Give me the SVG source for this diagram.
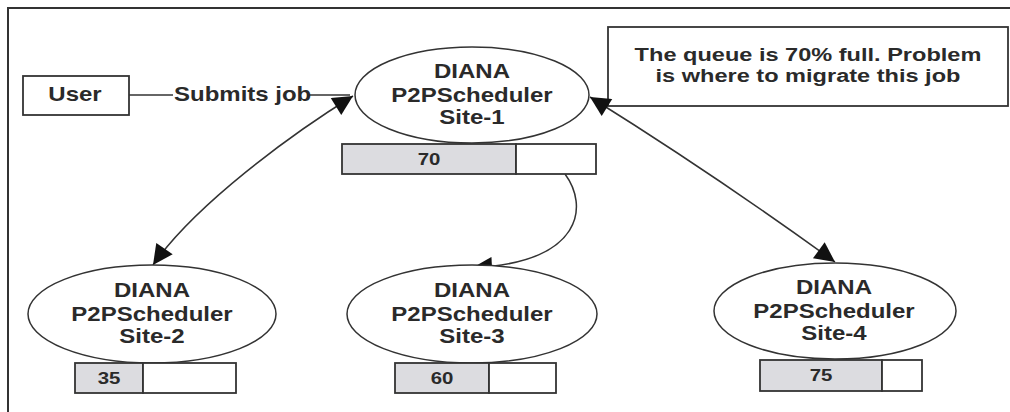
<svg xmlns="http://www.w3.org/2000/svg" width="1010" height="412" viewBox="0 0 1010 412">
<style>
.ln{fill:none;stroke:#333;stroke-width:1.5}
.el{fill:#fff;stroke:#333;stroke-width:1.5}
.bx{fill:#fff;stroke:#333;stroke-width:1.8}
.fl{fill:#dcdce0;stroke:#333;stroke-width:1.8}
.t{font-family:"Liberation Sans",Arial,sans-serif;font-weight:bold;font-size:20px;fill:#2a2a2a;text-anchor:middle}
.n{font-size:17px}
.c{font-size:19px}
.st{text-anchor:start}
</style>
<defs>
<marker id="ah" viewBox="0 0 10 10" refX="10" refY="5" markerWidth="26" markerHeight="20" markerUnits="userSpaceOnUse" orient="auto-start-reverse"><path d="M0,0L10,5L0,10z" fill="#111"/></marker>
</defs>
<rect width="1010" height="412" fill="#fff"/>
<path d="M8,412V8H1010" fill="none" stroke="#333" stroke-width="2"/>

<g id="note">
<rect class="bx" x="608" y="27" width="400" height="79"/>
<g transform="translate(808 0) scale(1.24 1)">
<text class="t c" x="0" y="61">The queue is 70% full. Problem</text>
<text class="t c" x="0" y="82">is where to migrate this job</text>
</g>
</g>

<g id="connectors">
<path class="ln" d="M129,95H173"/>
<path class="ln" d="M308,95H350"/>
<g transform="translate(174 0) scale(1.2 1)"><text class="t st" x="0" y="101">Submits job</text></g>
<path class="ln" d="M153,265C195,205 290,135 353,96" marker-start="url(#ah)" marker-end="url(#ah)"/>
<path class="ln" d="M590,97Q715,175 835,262" marker-start="url(#ah)" marker-end="url(#ah)"/>
<path class="ln" d="M565,174C588,205 585,262 472,268" marker-end="url(#ah)"/>
</g>

<g id="user">
<rect class="bx" x="23" y="76" width="106" height="39"/>
<g transform="translate(75 0) scale(1.2 1)"><text class="t" x="0" y="101">User</text></g>
</g>

<g id="site1">
<ellipse class="el" cx="472" cy="95" rx="117" ry="48"/>
<g transform="translate(472 95) scale(1.2 1)">
<text class="t" x="0" y="-17">DIANA</text>
<text class="t" x="0" y="7">P2PScheduler</text>
<text class="t" x="0" y="29">Site-1</text>
</g>
<rect class="fl" x="342" y="144" width="174" height="30"/>
<rect class="bx" x="516" y="144" width="80" height="30"/>
<g transform="translate(429 165) scale(1.2 1)"><text class="t n" x="0" y="0">70</text></g>
</g>

<g id="site2">
<ellipse class="el" cx="152" cy="314" rx="124" ry="49"/>
<g transform="translate(152 314) scale(1.2 1)">
<text class="t" x="0" y="-17">DIANA</text>
<text class="t" x="0" y="7">P2PScheduler</text>
<text class="t" x="0" y="29">Site-2</text>
</g>
<rect class="fl" x="75" y="363" width="68" height="30"/>
<rect class="bx" x="143" y="363" width="93" height="30"/>
<g transform="translate(109 384) scale(1.2 1)"><text class="t n" x="0" y="0">35</text></g>
</g>

<g id="site3">
<ellipse class="el" cx="472" cy="314" rx="125" ry="49"/>
<g transform="translate(472 314) scale(1.2 1)">
<text class="t" x="0" y="-17">DIANA</text>
<text class="t" x="0" y="7">P2PScheduler</text>
<text class="t" x="0" y="29">Site-3</text>
</g>
<rect class="fl" x="395" y="363" width="94" height="30"/>
<rect class="bx" x="489" y="363" width="67" height="30"/>
<g transform="translate(442 384) scale(1.2 1)"><text class="t n" x="0" y="0">60</text></g>
</g>

<g id="site4">
<ellipse class="el" cx="835" cy="311" rx="121" ry="48"/>
<g transform="translate(834 311) scale(1.2 1)">
<text class="t" x="0" y="-17">DIANA</text>
<text class="t" x="0" y="7">P2PScheduler</text>
<text class="t" x="0" y="29">Site-4</text>
</g>
<rect class="fl" x="760" y="360" width="122" height="31"/>
<rect class="bx" x="882" y="360" width="40" height="31"/>
<g transform="translate(821 381) scale(1.2 1)"><text class="t n" x="0" y="0">75</text></g>
</g>
</svg>
